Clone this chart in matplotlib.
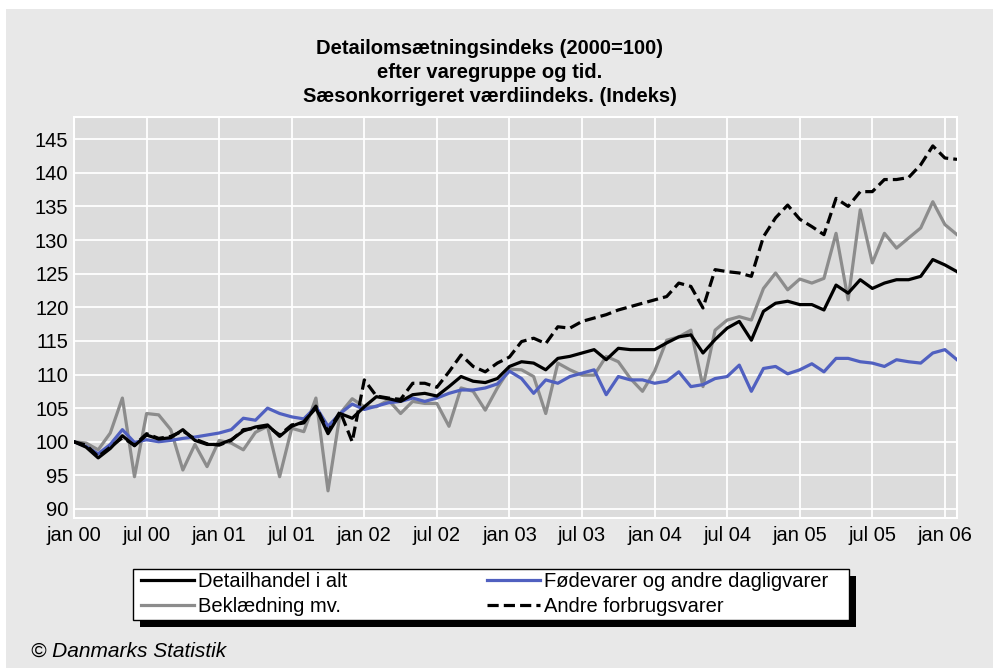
import matplotlib
matplotlib.use("Agg")
import matplotlib.pyplot as plt
from matplotlib.patches import Rectangle

plt.rcParams['font.family'] = ['Liberation Sans', 'DejaVu Sans']

# måneder jan 2000 .. feb 2006
months = list(range(74))
tick_pos = list(range(0, 73, 6))
tick_labels = ["jan 00", "jul 00", "jan 01", "jul 01", "jan 02", "jul 02", "jan 03",
               "jul 03", "jan 04", "jul 04", "jan 05", "jul 05", "jan 06"]
y_ticks = [90, 95, 100, 105, 110, 115, 120, 125, 130, 135, 140, 145]

detailhandel = [100.0, 99.2, 97.6, 99.0, 100.9, 99.4, 101.0, 100.4, 100.6, 101.8, 100.2, 99.6,
                99.6, 100.3, 101.6, 102.2, 102.5, 100.8, 102.3, 103.0, 105.0, 101.2, 104.2, 103.5,
                105.2, 106.7, 106.4, 106.0, 107.0, 107.2, 106.8, 108.2, 109.7, 109.0, 108.8, 109.4,
                111.2, 111.9, 111.7, 110.7, 112.4, 112.7, 113.2, 113.7, 112.2, 113.9, 113.7, 113.7,
                113.7, 114.7, 115.6, 115.9, 113.2, 115.2, 116.9, 117.9, 115.1, 119.4, 120.6, 120.9,
                120.4, 120.4, 119.6, 123.3, 122.1, 124.1, 122.8, 123.6, 124.1, 124.1, 124.6, 127.1,
                126.3, 125.3]
foedevarer = [100.0, 99.3, 98.2, 99.6, 101.8, 99.9, 100.3, 100.0, 100.2, 100.5, 100.7, 101.0,
              101.3, 101.8, 103.5, 103.2, 105.0, 104.2, 103.7, 103.4, 105.2, 102.3, 104.2, 105.6,
              104.8, 105.3, 105.8, 106.0, 106.5, 106.0, 106.5, 107.2, 107.7, 107.7, 108.0, 108.6,
              110.5, 109.4, 107.2, 109.2, 108.7, 109.7, 110.2, 110.7, 107.0, 109.7, 109.2, 109.2,
              108.7, 109.0, 110.4, 108.2, 108.5, 109.4, 109.7, 111.4, 107.5, 110.9, 111.2, 110.1,
              110.7, 111.6, 110.4, 112.4, 112.4, 111.9, 111.7, 111.2, 112.2, 111.9, 111.7, 113.2,
              113.7, 112.2]
beklaedning = [100.0, 99.8, 98.8, 101.3, 106.5, 94.8, 104.2, 104.0, 101.8, 95.8, 99.6, 96.3,
               100.2, 99.8, 98.8, 101.4, 102.3, 94.8, 102.0, 101.5, 106.5, 92.7, 104.2, 106.4,
               105.2, 105.2, 106.2, 104.2, 106.0, 105.7, 105.7, 102.3, 108.0, 107.5, 104.7, 108.0,
               110.8, 110.7, 109.7, 104.2, 111.7, 110.7, 109.9, 109.9, 112.7, 111.9, 109.4, 107.5,
               110.5, 115.1, 115.6, 116.6, 108.2, 116.6, 118.1, 118.6, 118.1, 122.8, 125.1, 122.6,
               124.2, 123.6, 124.3, 131.0, 121.1, 134.5, 126.6, 131.0, 128.8, 130.3, 131.8, 135.7,
               132.3, 130.8]
andre = [100.0, 99.5, 97.8, 99.2, 100.6, 99.5, 101.2, 100.5, 100.8, 101.6, 100.4, 99.7,
         99.5, 100.2, 101.8, 102.0, 102.3, 101.0, 102.5, 102.8, 105.3, 101.5, 104.5, 100.0,
         109.2, 106.8, 106.5, 106.3, 108.7, 108.7, 108.1, 110.4, 112.9, 111.2, 110.4, 111.7,
         112.6, 114.9, 115.4, 114.6, 117.1, 116.9, 117.9, 118.4, 118.9, 119.6, 120.1, 120.6,
         121.1, 121.6, 123.6, 123.1, 119.9, 125.6, 125.3, 125.1, 124.6, 130.5, 133.3, 135.2,
         133.1, 132.0, 130.8, 136.2, 135.0, 137.2, 137.2, 139.0, 139.0, 139.3, 141.2, 144.0,
         142.2, 142.0]

W, H = 993, 668
fig = plt.figure(figsize=(W / 100, H / 100), dpi=100, facecolor="white")
# lysegrå baggrund med hvid kant øverst og til venstre
fig.patches.append(Rectangle((6 / W, 0), 1, 1 - 9 / H, transform=fig.transFigure,
                             facecolor="#e8e8e8", edgecolor="none", zorder=-10))

ax = fig.add_axes([74 / W, 1 - 518 / H, (957 - 74) / W, (518 - 117) / H])
ax.set_facecolor("#dcdcdc")

lw = 2.3
l_bek, = ax.plot(months, beklaedning, color="#8c8c8c", lw=lw, zorder=3)
l_foe, = ax.plot(months, foedevarer, color="#5060c0", lw=lw, zorder=4)
l_det, = ax.plot(months, detailhandel, color="black", lw=lw, zorder=5)
l_and, = ax.plot(months, andre, color="black", lw=lw, linestyle=(0, (3.5, 1.6)), zorder=6)

ax.set_xlim(0, 73)
ax.set_ylim(88.66, 148.3)
ax.set_xticks(tick_pos)
ax.set_xticklabels(tick_labels)
ax.set_yticks(y_ticks)
ax.grid(True, color="white", lw=1.3)
ax.set_axisbelow(True)
ax.tick_params(length=0, labelsize=14.5, colors="black")
ax.tick_params(axis="x", pad=6)
ax.tick_params(axis="y", pad=4)
for s in ax.spines.values():
    s.set_color("white")
    s.set_linewidth(1.5)

# titel
title_lines = ["Detailomsætningsindeks (2000=100)", "efter varegruppe og tid.",
               "Sæsonkorrigeret værdiindeks. (Indeks)"]
for i, t in enumerate(title_lines):
    fig.text(490 / W, 1 - (49 + 23.5 * i) / H, t, ha="center", va="center",
             fontsize=14.5, fontweight="bold")

# legend med sort skygge
fig.patches.append(Rectangle((140 / W, 1 - 627 / H), 716 / W, 51 / H, transform=fig.transFigure,
                             facecolor="black", edgecolor="none", zorder=1))
fig.patches.append(Rectangle((133 / W, 1 - 620 / H), 716 / W, 51 / H, transform=fig.transFigure,
                             facecolor="white", edgecolor="black", lw=1.0, zorder=2))
leg = fig.legend([l_det, l_bek, l_foe, l_and],
                 ["Detailhandel i alt", "Beklædning mv.", "Fødevarer og andre dagligvarer",
                  "Andre forbrugsvarer"],
                 ncol=2, loc="upper left", bbox_to_anchor=(141 / W, 1 - 572 / H),
                 frameon=False, fontsize=14.5, handlelength=2.65, handletextpad=0.2,
                 columnspacing=6.9, labelspacing=0.3, borderpad=0, borderaxespad=0)
leg.set_zorder(3)

fig.text(31 / W, 1 - 651 / H, "© Danmarks Statistik", fontsize=15, style="italic",
         ha="left", va="center")

fig.savefig("out.png", dpi=100, facecolor=fig.get_facecolor())
